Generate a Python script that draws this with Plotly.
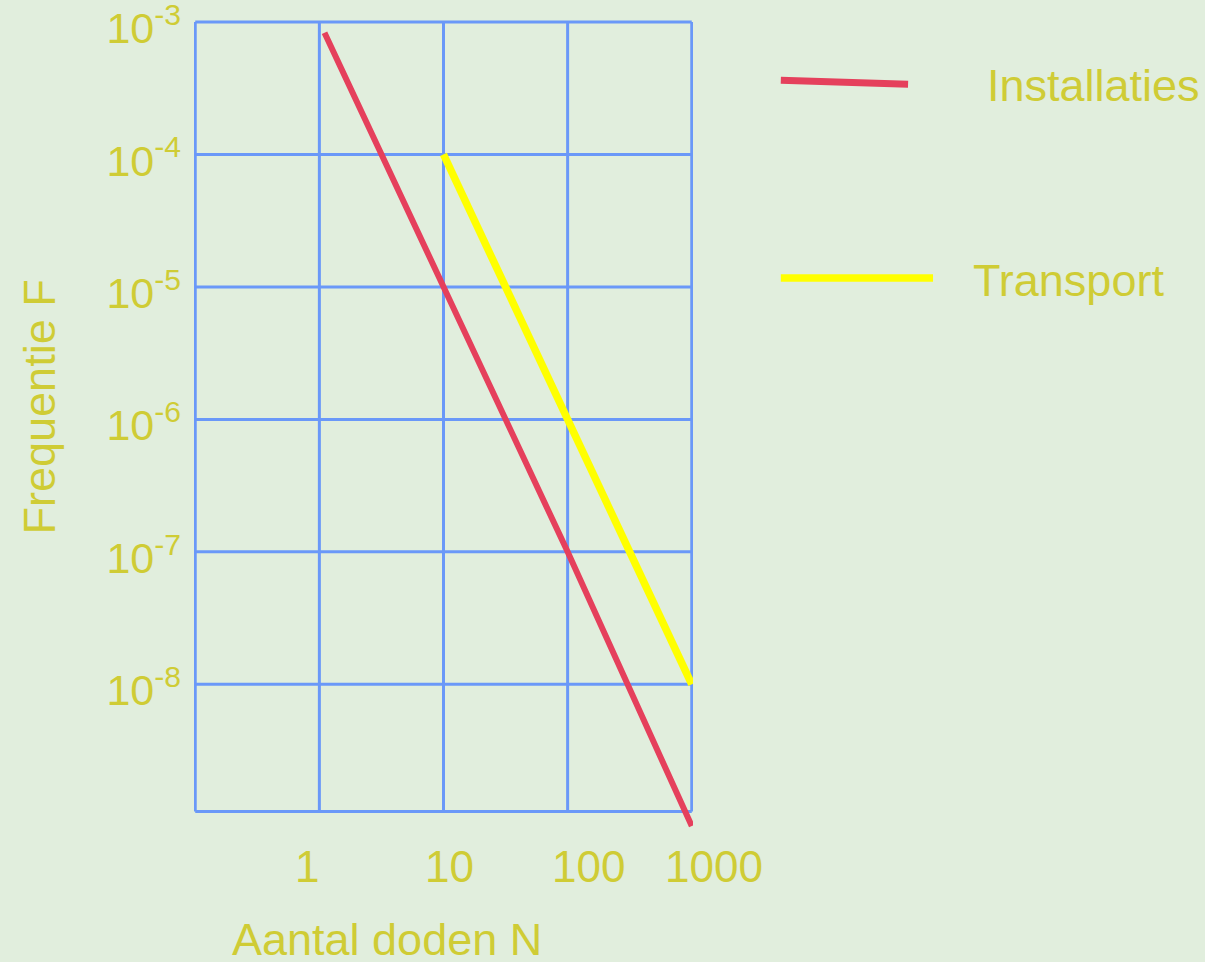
import math
import plotly.graph_objects as go

# Data
inst_N = [1.1, 10, 100, 1000]
inst_F = [8.3e-4, 1e-5, 1e-7, 8.5e-10]
trans_N = [10, 100, 1000]
trans_F = [1e-4, 1e-6, 1e-8]

x_tickvals = [1, 10, 100, 1000]
x_ticktext = ["1", "10", "100", "1000"]
y_tickvals = [1e-3, 1e-4, 1e-5, 1e-6, 1e-7, 1e-8]
y_ticktext = ["10<sup>-3</sup>", "10<sup>-4</sup>", "10<sup>-5</sup>",
              "10<sup>-6</sup>", "10<sup>-7</sup>", "10<sup>-8</sup>"]
series_names = ["Installaties", "Transport"]

# frame of the grid (axis limits of the drawn box)
X_MIN = 0.1
X_MAX = 1000
Y_MIN = 10 ** -8.96
Y_MAX = 1e-3

BG = "#E1EEDD"
GRID = "#6A98F8"
TXT = "#CFCC35"
RED = "#E5405C"
YEL = "#FFFF00"
FONT = "Liberation Sans, Arial, sans-serif"

fig = go.Figure()

# grid and frame drawn as shapes so the red line may run past the bottom edge
for xv in [X_MIN] + x_tickvals:
    fig.add_shape(type="line", xref="x", yref="y", x0=xv, x1=xv, y0=Y_MIN, y1=Y_MAX,
                  line=dict(color=GRID, width=3), layer="below")
for yv in y_tickvals + [Y_MIN]:
    fig.add_shape(type="line", xref="x", yref="y", x0=X_MIN, x1=X_MAX, y0=yv, y1=yv,
                  line=dict(color=GRID, width=3), layer="below")

fig.add_trace(go.Scatter(x=inst_N, y=inst_F, mode="lines", name=series_names[0],
                         line=dict(color=RED, width=6)))
fig.add_trace(go.Scatter(x=trans_N, y=trans_F, mode="lines", name=series_names[1],
                         line=dict(color=YEL, width=7.5)))

fig.update_layout(
    width=1205, height=962,
    margin=dict(l=194, r=512, t=20, b=128, autoexpand=False),
    paper_bgcolor=BG, plot_bgcolor=BG,
    showlegend=False,
    font=dict(family=FONT, color=TXT, size=44),
)
fig.update_xaxes(type="log", range=[-1.01, 3.01], tickvals=x_tickvals,
                 showticklabels=False, showgrid=False, showline=False,
                 zeroline=False, ticks="", automargin=False)
fig.update_yaxes(type="log", range=[-9.13, -2.985], tickvals=y_tickvals, ticktext=y_ticktext,
                 tickfont=dict(size=43, color=TXT, family=FONT),
                 showgrid=False, showline=False,
                 zeroline=False, ticks="", ticklabelstandoff=12,
                 ticklabelshift=6, ticklabeloverflow="allow", automargin=False)

# x tick labels as annotations (slightly offset as in the original)
x_shifts = [-12, 6, 21, 22]
for v, t, s in zip(x_tickvals, x_ticktext, x_shifts):
    fig.add_annotation(x=math.log10(v), xref="x", y=math.log10(Y_MIN), yref="y",
                       text=t, showarrow=False, xanchor="center", yanchor="middle",
                       xshift=s, yshift=-55, font=dict(size=44, color=TXT, family=FONT))

# axis titles
fig.add_annotation(x=0.072, y=-0.13, xref="paper", yref="paper", text="Aantal doden N",
                   showarrow=False, xanchor="left", yanchor="middle",
                   font=dict(size=45, color=TXT, family=FONT))
fig.add_annotation(x=-0.309, y=0.525, xref="paper", yref="paper", text="Frequentie F",
                   showarrow=False, textangle=-90, xanchor="center", yanchor="middle",
                   font=dict(size=45, color=TXT, family=FONT))

# custom legend
fig.add_shape(type="line", xref="paper", yref="paper", x0=1.176, x1=1.431,
              y0=0.9260, y1=0.9210, line=dict(color=RED, width=7))
fig.add_shape(type="line", xref="paper", yref="paper", x0=1.176, x1=1.481,
              y0=0.683, y1=0.683, line=dict(color=YEL, width=7.5))
fig.add_annotation(x=1.585, y=0.920, xref="paper", yref="paper", text=series_names[0],
                   showarrow=False, xanchor="left", yanchor="middle",
                   font=dict(size=45, color=TXT, family=FONT))
fig.add_annotation(x=1.557, y=0.680, xref="paper", yref="paper", text=series_names[1],
                   showarrow=False, xanchor="left", yanchor="middle",
                   font=dict(size=45, color=TXT, family=FONT))

fig.write_html(
    "out.html",
    config={"displayModeBar": False},
    post_script=("document.body.style.margin='0px';"
                 "document.body.style.overflow='hidden';"
                 "document.body.style.background='" + BG + "';"),
)
